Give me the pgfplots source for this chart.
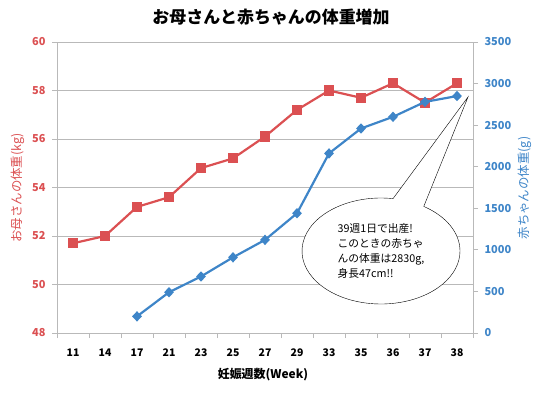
\documentclass[border=0pt]{standalone}
\usepackage{fontspec}
\setmainfont{Noto Sans CJK JP}
\usepackage{pgfplots}
\pgfplotsset{compat=1.18}
\usetikzlibrary{shapes.callouts}
\definecolor{momred}{RGB}{219,80,82}
\definecolor{babyblue}{RGB}{62,133,200}
\definecolor{gridgray}{RGB}{185,185,185}
\begin{document}
\begin{tikzpicture}[x=1bp,y=1bp]
\path (0,0) rectangle (541,392);
\pgfplotsset{
  commonx/.style={
    at={(57bp,59bp)}, anchor=south west, scale only axis,
    width=416bp, height=291bp,
    xmin=-0.5, xmax=12.5,
    /pgf/number format/assume math mode=true,
    /pgf/number format/1000 sep={},
    tick label style={font=\fontsize{11}{13}\selectfont\bfseries},
  }
}
\begin{axis}[commonx,
  ymin=48, ymax=60, ytick distance=2,
  axis x line*=bottom, axis y line*=left,
  axis line style={draw=gridgray, thick},
  ymajorgrids, grid style={gridgray, thick},
  xtick={0,...,12},
  xticklabels={11,14,17,21,23,25,27,29,33,35,36,37,38},
  major x tick style={draw=none},
  minor xtick={-0.5,0.5,...,12.5},
  minor tick length=5bp, major tick length=5bp,
  tick align=outside,
  tick style={gridgray, thick},
  yticklabel style={text=momred, xshift=-3bp},
  xticklabel style={text=black, yshift=-7bp, font=\fontsize{10.5}{12}\selectfont\bfseries},
]
\addplot[momred, line width=2.2pt, mark=square*, mark size=4bp] coordinates {
(0,51.7) (1,52.0) (2,53.2) (3,53.6) (4,54.8) (5,55.2) (6,56.1) (7,57.2) (8,58.0) (9,57.7) (10,58.3) (11,57.5) (12,58.3)};
\end{axis}
\begin{axis}[commonx,
  ymin=0, ymax=3500, ytick distance=500,
  axis x line=none, axis y line*=right,
  axis line style={draw=gridgray, thick},
  tick align=outside, major tick length=5bp,
  tick style={gridgray, thick},
  yticklabel style={text=babyblue, xshift=3bp},
  scaled y ticks=false,
]
\addplot[babyblue, line width=2.2pt, mark=diamond*, mark size=3.6bp, mark options={xscale=1.25}] coordinates {
(2,200) (3,490) (4,680) (5,910) (6,1120) (7,1440) (8,2160) (9,2460) (10,2600) (11,2780) (12,2850)};
\end{axis}
\node[ellipse callout, draw=black, fill=white, thin,
  minimum width=158bp, minimum height=106bp,
  callout absolute pointer={(468,295)}, callout pointer arc=24,
  align=left, font=\fontsize{10.8}{15.3}\selectfont, inner sep=0pt]
  at (381,141) {39週1日で出産!\\このときの赤ちゃ\\んの体重は2830g,\\身長47cm!!};
\node[font=\fontsize{17}{20}\selectfont\bfseries] at (271,375) {お母さんと赤ちゃんの体重増加};
\node[font=\fontsize{12}{14}\selectfont\bfseries] at (263,17) {妊娠週数(Week)};
\node[rotate=90, text=momred, font=\fontsize{12.5}{14}\selectfont] at (18,204) {お母さんの体重(kg)};
\node[rotate=90, text=babyblue, font=\fontsize{12.5}{14}\selectfont] at (525,204) {赤ちゃんの体重(g)};
\end{tikzpicture}
\end{document}
